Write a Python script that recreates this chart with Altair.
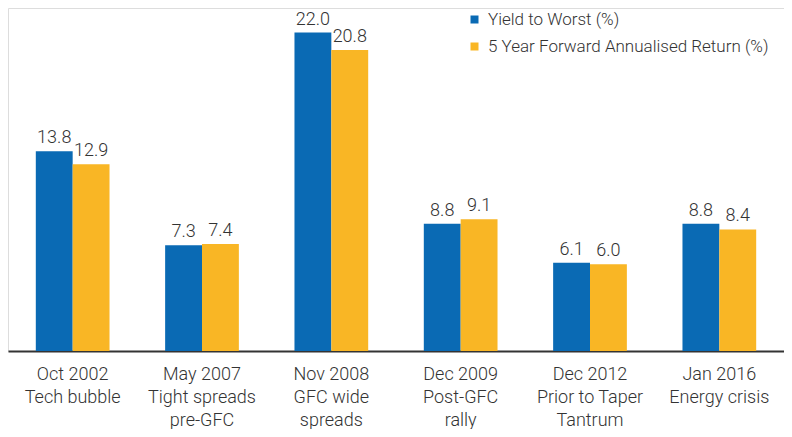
import altair as alt
import pandas as pd

periods = ["Oct 2002\nTech bubble", "May 2007\nTight spreads\npre-GFC", "Nov 2008\nGFC wide\nspreads",
           "Dec 2009\nPost-GFC\nrally", "Dec 2012\nPrior to Taper\nTantrum", "Jan 2016\nEnergy crisis"]
series = ["Yield to Worst (%)", "5 Year Forward Annualised Return (%)"]
ytw = [13.8, 7.3, 22.0, 8.8, 6.1, 8.8]
fwd = [12.9, 7.4, 20.8, 9.1, 6.0, 8.4]
colors = ["#0a6ab4", "#f9b625"]

rows = []
for p, a, b in zip(periods, ytw, fwd):
    rows.append({"period": p, "series": series[0], "value": a})
    rows.append({"period": p, "series": series[1], "value": b})
df = pd.DataFrame(rows)

font = "Roboto"
fw = 300
fs = 18

x = alt.X("period:N", sort=periods,
          scale=alt.Scale(paddingInner=0.43, paddingOuter=0.215),
          axis=alt.Axis(title=None, labelAngle=0, labelExpr="split(datum.label, '\\n')",
                        labelFont=font, labelFontWeight=fw, labelFontSize=fs, labelColor="#333333",
                        labelLineHeight=23, labelPadding=14, ticks=False,
                        domainColor="#333333", domainWidth=2))
xo = alt.XOffset("series:N", sort=series, scale=alt.Scale(paddingInner=0))
y = alt.Y("value:Q", scale=alt.Scale(domain=[0, 23.7], nice=False, zero=True), axis=None)

bars = alt.Chart(df).mark_bar().encode(
    x=x, xOffset=xo, y=y,
    color=alt.Color("series:N", sort=series, scale=alt.Scale(domain=series, range=colors),
                    legend=alt.Legend(title=None, orient="none", legendX=458, legendY=3,
                                      symbolType="square", symbolSize=64, symbolStrokeWidth=0,
                                      labelFont=font, labelFontWeight=fw, labelFontSize=17,
                                      labelColor="#333333",
                                      labelLimit=0, rowPadding=9, labelOffset=5))
)
labels = alt.Chart(df).mark_text(baseline="bottom", dy=-4, font=font, fontWeight=fw, fontSize=fs,
                                 color="#333333").encode(
    x=x, xOffset=xo, y=y, text=alt.Text("value:Q", format=".1f")
)

chart = (bars + labels).properties(
    width=776, height=421,
    autosize=alt.AutoSizeParams(type="fit", contains="padding"),
).configure_view(stroke=None).configure(
    padding={"left": 0, "top": 0, "right": 0, "bottom": 0}
)
chart.save("out.html", embed_options={"renderer": "svg", "actions": False})
